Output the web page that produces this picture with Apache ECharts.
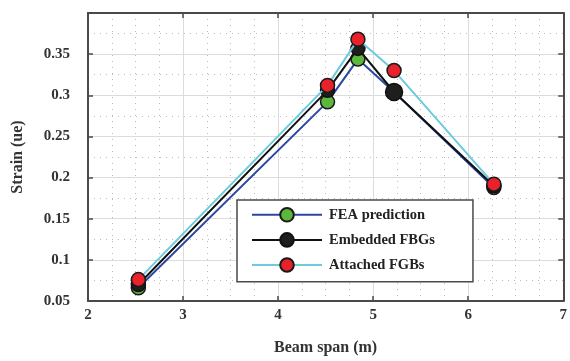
<!DOCTYPE html>
<html><head><meta charset="utf-8">
<script src="https://cdn.jsdelivr.net/npm/echarts@6/dist/echarts.min.js"></script>
<style>html,body{margin:0;padding:0;background:#fff}#c{width:570px;height:361px}</style>
</head><body><div id="c"></div>
<script>
const feaX = [2.53, 4.52, 4.84, 5.22, 6.27];
const feaY = [0.066, 0.292, 0.344, 0.304, 0.188];
const embX = [2.53, 4.52, 4.84, 5.22, 6.27];
const embY = [0.070, 0.306, 0.357, 0.304, 0.190];
const attX = [2.53, 4.52, 4.84, 5.22, 6.27];
const attY = [0.076, 0.312, 0.368, 0.330, 0.192];
const names = ['FEA prediction', 'Embedded FBGs', 'Attached FGBs'];
const xTicks = [2, 3, 4, 5, 6, 7];
const yTicks = [0.05, 0.1, 0.15, 0.2, 0.25, 0.3, 0.35];

const font = '"Liberation Serif", "Times New Roman", serif';
const frame = '#4a4a4a';
function pairs(xs, ys){ return xs.map((x,i)=>[x, ys[i]]); }

const chart = echarts.init(document.getElementById('c'));
const baseX = {
  type:'value', min:xTicks[0], max:xTicks[xTicks.length-1], interval:1,
  axisLine:{show:true, onZero:false, lineStyle:{color:frame, width:2}},
  axisTick:{show:true, inside:true, length:5, lineStyle:{color:frame, width:1.5}},
  splitLine:{show:false}, minorTick:{show:false}, minorSplitLine:{show:false}
};
const baseY = {
  type:'value', min:yTicks[0], max:0.4, interval:0.05,
  axisLine:{show:true, onZero:false, lineStyle:{color:frame, width:2}},
  axisTick:{show:true, inside:true, length:5, lineStyle:{color:frame, width:1.5}},
  splitLine:{show:false}, minorTick:{show:false}, minorSplitLine:{show:false}
};
chart.setOption({
  animation:false,
  grid:{left:88, top:13, width:480, height:290},
  xAxis:[
    Object.assign({}, baseX, {
      position:'bottom',
      name:'Beam span (m)', nameLocation:'middle', nameGap:39,
      nameTextStyle:{fontFamily:font, fontWeight:'bold', fontSize:16, color:'#333'},
      axisLabel:{show:true, margin:7, fontFamily:font, fontWeight:'bold', fontSize:15, color:'#333',
        formatter:v=> xTicks.includes(v) ? String(v) : ''},
      splitLine:{show:true, lineStyle:{color:'#dcdcdc', width:1}},
      minorTick:{show:false, splitNumber:4},
      minorSplitLine:{show:true, lineStyle:{color:'#bbbbbb', width:1, type:[1,5]}}
    }),
    Object.assign({}, baseX, {position:'top', axisLabel:{show:false}})
  ],
  yAxis:[
    Object.assign({}, baseY, {
      position:'left',
      name:'Strain (ue)', nameLocation:'middle', nameGap:62,
      nameTextStyle:{fontFamily:font, fontWeight:'bold', fontSize:16, color:'#333'},
      axisLabel:{show:true, margin:18, fontFamily:font, fontWeight:'bold', fontSize:15, color:'#333',
        formatter:v=>{ const r = parseFloat(v.toFixed(2)); return yTicks.some(t=>Math.abs(t-r)<1e-9) ? String(r) : ''; }},
      splitLine:{show:true, lineStyle:{color:'#dcdcdc', width:1}},
      minorTick:{show:false, splitNumber:2},
      minorSplitLine:{show:true, lineStyle:{color:'#bbbbbb', width:1, type:[1,5]}}
    }),
    Object.assign({}, baseY, {position:'right', axisLabel:{show:false}})
  ],
  legend:{
    show:true, left:237, top:200, orient:'vertical', itemGap:9.5,
    padding:[7, 38, 9, 14],
    borderColor:frame, borderWidth:1.5, backgroundColor:'#fff',
    itemWidth:70, itemHeight:17,
    textStyle:{fontFamily:font, fontWeight:'bold', fontSize:14.5, color:'#222', padding:[0,0,0,2]},
    data:names
  },
  series:[
    {name:names[0], type:'line', data:pairs(feaX, feaY), symbol:'circle', symbolSize:14,
     lineStyle:{color:'#2b47a0', width:2}, itemStyle:{color:'#5bb83c', borderColor:'#1a1a1a', borderWidth:1.5}, z:2},
    {name:names[1], type:'line', data:pairs(embX, embY).map((p,i)=> i===3 ? {value:p, symbolSize:17} : p),
     symbol:'circle', symbolSize:14,
     lineStyle:{color:'#111', width:2}, itemStyle:{color:'#1e1e1e', borderColor:'#111', borderWidth:1.5}, z:3},
    {name:names[2], type:'line', data:pairs(attX, attY), symbol:'circle', symbolSize:14,
     lineStyle:{color:'#6ccbdc', width:2}, itemStyle:{color:'#e8212b', borderColor:'#1a1a1a', borderWidth:1.5}, z:4}
  ]
});
</script></body></html>
